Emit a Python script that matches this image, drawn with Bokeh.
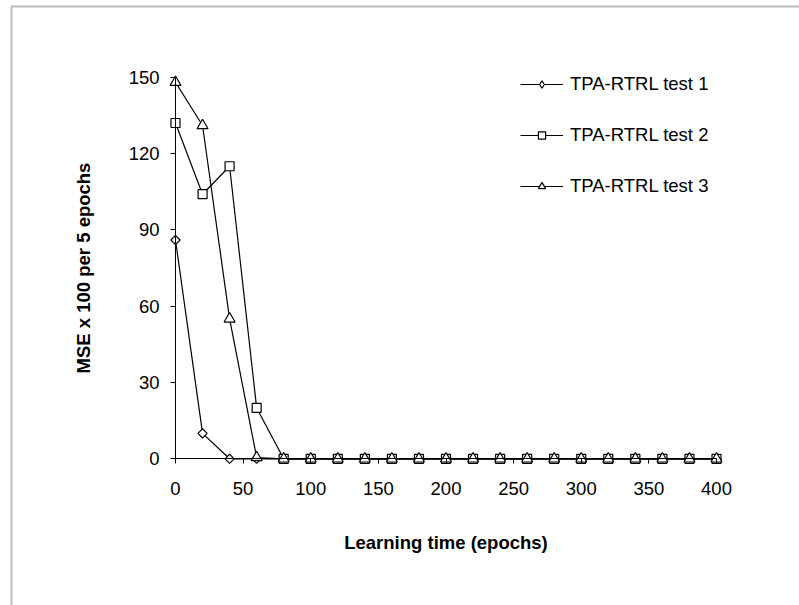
import math
from bokeh.plotting import figure
from bokeh.models import (LinearAxis, FixedTicker, Range1d, Legend, LegendItem,
                          BoxAnnotation)
from bokeh.embed import file_html
from bokeh.resources import INLINE

# Learning time (epochs), sampled every 20 epochs
epochs = [0, 20, 40, 60, 80, 100, 120, 140, 160, 180, 200,
          220, 240, 260, 280, 300, 320, 340, 360, 380, 400]

# MSE x 100 per 5 epochs for each test run
test1 = [86, 10, 0, 0, 0, 0, 0, 0, 0, 0, 0,
         0, 0, 0, 0, 0, 0, 0, 0, 0, 0]
test2 = [132, 104, 115, 20, 0, 0, 0, 0, 0, 0, 0,
         0, 0, 0, 0, 0, 0, 0, 0, 0, 0]
test3 = [148, 131, 55, 0.5, 0, 0, 0, 0, 0, 0, 0,
         0, 0, 0, 0, 0, 0, 0, 0, 0, 0]

series_names = ["TPA-RTRL test 1", "TPA-RTRL test 2", "TPA-RTRL test 3"]

x_ticks = [0, 50, 100, 150, 200, 250, 300, 350, 400]
y_ticks = [0, 30, 60, 90, 120, 150]

FONT = "Liberation Sans"
FS = "18.5px"

W, H = 799, 605
# pixel scale of the plot area: origin at (175, 458.3)
x_px, y_px = 1.3525, 2.544
x0_px, y0_px = 175.0, 458.3

p = figure(width=W, height=H, output_backend="svg", toolbar_location=None,
           x_range=Range1d(-x0_px / x_px, (W - x0_px) / x_px),
           y_range=Range1d(-(H - y0_px) / y_px, y0_px / y_px),
           x_axis_location=None, y_axis_location=None,
           min_border_left=0, min_border_right=0,
           min_border_top=0, min_border_bottom=0)
p.grid.visible = False
p.outline_line_color = None
p.background_fill_color = "white"
p.border_fill_color = "white"

# axes crossing at the origin
xaxis = LinearAxis(fixed_location=0, bounds=(0, 400),
                   ticker=FixedTicker(ticks=x_ticks),
                   axis_label="Learning time (epochs)")
yaxis = LinearAxis(fixed_location=0, bounds=(0, 150),
                   ticker=FixedTicker(ticks=y_ticks),
                   axis_label="MSE x 100 per 5 epochs")
for ax in (xaxis, yaxis):
    ax.axis_line_color = "black"
    ax.axis_line_width = 1
    ax.major_tick_line_color = "black"
    ax.major_tick_in = 0
    ax.major_tick_out = 5
    ax.minor_tick_line_color = None
    ax.major_label_text_font = FONT
    ax.major_label_text_font_size = FS
    ax.major_label_text_color = "black"
    ax.axis_label_text_font = FONT
    ax.axis_label_text_font_size = FS
    ax.axis_label_text_font_style = "bold"
    ax.axis_label_text_color = "black"
xaxis.major_label_standoff = 18
xaxis.axis_label_standoff = 34
yaxis.major_label_standoff = 11
yaxis.axis_label_standoff = 32
p.add_layout(xaxis, "below")
p.add_layout(yaxis, "left")

marker_specs = [
    dict(marker="square", size=6.5, angle=math.pi / 4),   # diamond
    dict(marker="square", size=9, angle=0),
    dict(marker="triangle", size=11, angle=0),
]
legend_markers = ["diamond", "square", "triangle"]

LW = 1.2
items = []
for name, vals, spec, lm in zip(series_names, [test1, test2, test3],
                                marker_specs, legend_markers):
    ln = p.line(epochs, vals, line_color="black", line_width=LW)
    p.scatter(epochs, vals, marker=spec["marker"], size=spec["size"],
              angle=spec["angle"], fill_color="white",
              line_color="black", line_width=LW)
    # hidden copy that only supplies the legend swatch marker
    key = p.scatter(epochs, vals, marker=lm, size=8, fill_color="white",
                    line_color="black", line_width=LW, visible=False)
    items.append(LegendItem(label=name, renderers=[ln, key]))

legend = Legend(items=items, location=(520, 408),
                glyph_width=43, glyph_height=18, label_height=20,
                label_standoff=7, spacing=29, padding=0, margin=0,
                border_line_color=None, background_fill_alpha=0,
                inactive_fill_alpha=0,
                label_text_font=FONT, label_text_font_size=FS,
                label_text_color="black")
p.add_layout(legend)

# chart area border
border = BoxAnnotation(left=11, right=820, top=6, bottom=620,
                       left_units="canvas", right_units="canvas",
                       top_units="canvas", bottom_units="canvas",
                       fill_alpha=0, line_color="#222222", line_width=2)
p.add_layout(border)

open("out.html", "w").write(file_html(p, INLINE))
